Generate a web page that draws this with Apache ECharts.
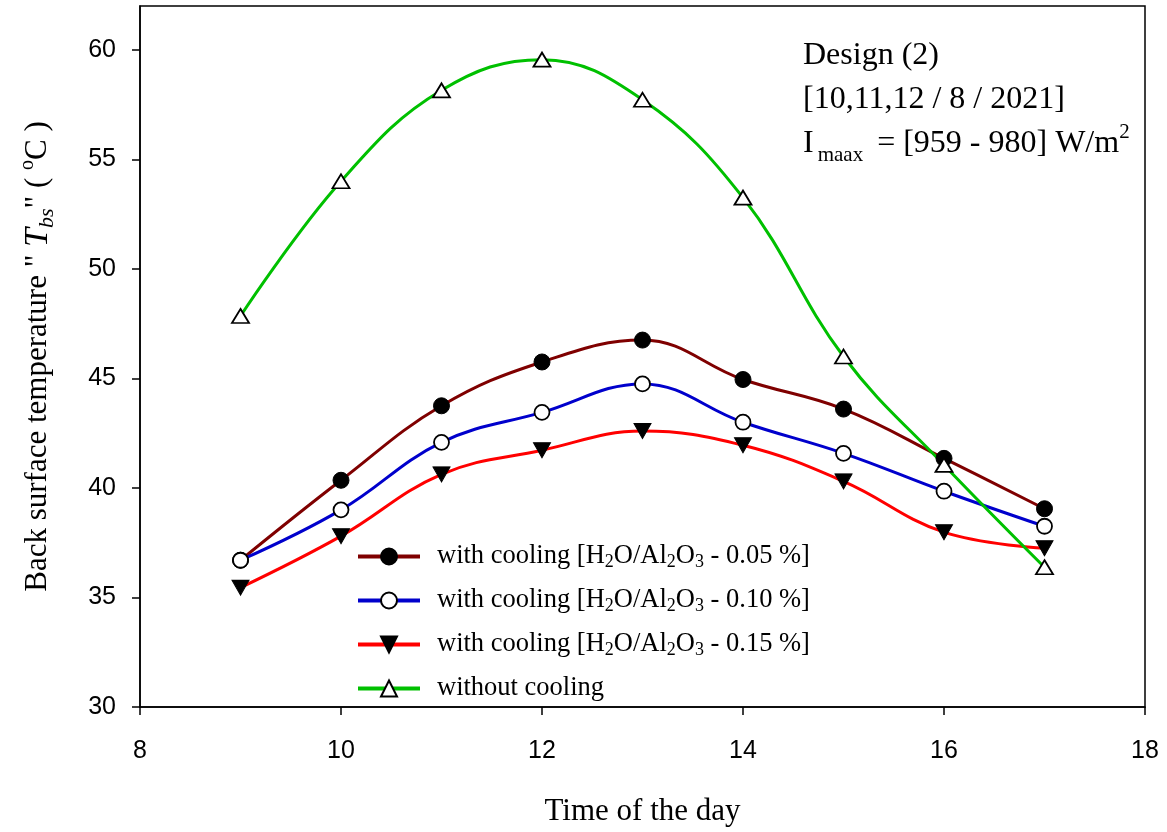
<!DOCTYPE html>
<html>
<head>
<meta charset="utf-8">
<script src="https://cdn.jsdelivr.net/npm/echarts@6/dist/echarts.min.js"></script>
<style>
html,body{margin:0;padding:0;background:#fff;}
#c{width:1167px;height:832px;}
</style>
</head>
<body>
<div id="c"></div>
<script>
const hours = [9, 10, 11, 12, 13, 14, 15, 16, 17];
const cool005 = [36.7, 40.35, 43.75, 45.75, 46.75, 44.95, 43.6, 41.35, 39.05];
const cool010 = [36.7, 39.0, 42.08, 43.45, 44.75, 43.0, 41.58, 39.85, 38.25];
const cool015 = [35.45, 37.8, 40.62, 41.72, 42.6, 41.95, 40.3, 37.98, 37.25];
const noCool = [47.85, 54.0, 58.15, 59.55, 57.72, 53.25, 46.0, 41.05, 36.38];
const seriesNames = ['with cooling [H2O/Al2O3 - 0.05 %]', 'with cooling [H2O/Al2O3 - 0.10 %]', 'with cooling [H2O/Al2O3 - 0.15 %]', 'without cooling'];
const yTicks = [30, 35, 40, 45, 50, 55, 60];
const xTicks = [8, 10, 12, 14, 16, 18];

const pair = arr => hours.map((h, i) => [h, arr[i]]);
const serif = 'Liberation Serif';
const sans = 'Liberation Sans';

const legendRich = {
  n: {fontFamily: serif, fontSize: 26.5, color: '#000', verticalAlign: 'middle', lineHeight: 30},
  s: {fontFamily: serif, fontSize: 18, color: '#000', verticalAlign: 'bottom', lineHeight: 4}
};
function legendFmt(name) {
  if (name.indexOf('H2O') < 0) return '{n|' + name + '}';
  const pct = name.match(/- ([\d.]+ %)/)[1];
  return '{n|with cooling [H}{s|2}{n|O/Al}{s|2}{n|O}{s|3}{n| - ' + pct + ']}';
}

const chart = echarts.init(document.getElementById('c'), null, {renderer: 'canvas'});
const option = {
  backgroundColor: '#fff',
  animation: false,
  grid: {left: 140, right: 22, top: 6, bottom: 124, show: true, borderColor: '#000', borderWidth: 1.5, backgroundColor: 'transparent'},
  xAxis: {
    type: 'value', min: 8, max: 18, interval: 2,
    name: 'Time of the day', nameLocation: 'middle', nameGap: 89,
    nameTextStyle: {fontFamily: serif, fontSize: 31, color: '#000'},
    axisLine: {show: true, onZero: false, lineStyle: {color: '#000', width: 1.5}},
    axisTick: {show: true, inside: false, length: 8, lineStyle: {color: '#000', width: 1.5}, customValues: xTicks},
    axisLabel: {fontFamily: sans, fontSize: 25, color: '#000', margin: 32, customValues: xTicks},
    splitLine: {show: false}
  },
  yAxis: {
    type: 'value', min: 30, max: 62, interval: 5,
    name: '{n|Back surface temperature " }{i|T}{is|bs}{n|" ( }{sup|o}{n|C )}',
    nameLocation: 'middle', nameGap: 82, nameRotate: 90,
    nameTextStyle: {
      rich: {
        n: {fontFamily: serif, fontSize: 31, color: '#000', verticalAlign: 'middle', lineHeight: 40},
        i: {fontFamily: serif, fontSize: 34, fontStyle: 'italic', color: '#000', verticalAlign: 'middle', lineHeight: 40},
        is: {fontFamily: serif, fontSize: 22, fontStyle: 'italic', color: '#000', verticalAlign: 'bottom', lineHeight: 6},
        sup: {fontFamily: serif, fontSize: 20, color: '#000', verticalAlign: 'top', lineHeight: 12}
      }
    },
    axisLine: {show: true, onZero: false, lineStyle: {color: '#000', width: 1.5}},
    axisTick: {show: true, inside: false, length: 8, lineStyle: {color: '#000', width: 1.5}, customValues: yTicks},
    axisLabel: {fontFamily: sans, fontSize: 25, color: '#000', margin: 24, customValues: yTicks},
    splitLine: {show: false}
  },
  legend: {
    orient: 'vertical', left: 356, top: 543, padding: 0,
    itemWidth: 62, itemHeight: 20, itemGap: 15.5,
    data: seriesNames,
    formatter: legendFmt,
    lineStyle: {width: 4},
    textStyle: {rich: legendRich, padding: [0, 0, 0, 12]}
  },
  graphic: [{
    type: 'text', left: 803, top: 40,
    style: {
      text: '{n|Design (2)}\n{n|[10,11,12 / 8 / 2021]}\n{n|I}{s|maax}{n| = [959 - 980] W/m}{p|2}',
      rich: {
        n: {fontFamily: serif, fontSize: 32, fill: '#000', lineHeight: 44, verticalAlign: 'middle'},
        s: {fontFamily: serif, fontSize: 21, fill: '#000', lineHeight: 6, verticalAlign: 'bottom', padding: [0, 6, 0, 4]},
        p: {fontFamily: serif, fontSize: 21, fill: '#000', lineHeight: 10, verticalAlign: 'top'}
      }
    }
  }],
  series: [
    {name: seriesNames[0], type: 'line', data: pair(cool005), smooth: 0.4,
     lineStyle: {color: '#7f0000', width: 3}, itemStyle: {color: '#000', borderColor: '#000', borderWidth: 1},
     symbol: 'circle', symbolSize: 16, showAllSymbol: true},
    {name: seriesNames[1], type: 'line', data: pair(cool010), smooth: 0.4,
     lineStyle: {color: '#0000cc', width: 3}, itemStyle: {color: '#fff', borderColor: '#000', borderWidth: 1.8},
     symbol: 'circle', symbolSize: 15, showAllSymbol: true},
    {name: seriesNames[2], type: 'line', data: pair(cool015), smooth: 0.4,
     lineStyle: {color: '#ff0000', width: 3}, itemStyle: {color: '#000', borderColor: '#000', borderWidth: 1},
     symbol: 'triangle', symbolRotate: 180, symbolSize: [17, 15], showAllSymbol: true},
    {name: seriesNames[3], type: 'line', data: pair(noCool), smooth: 0.4,
     lineStyle: {color: '#00c000', width: 3}, itemStyle: {color: '#fff', borderColor: '#000', borderWidth: 1.8},
     symbol: 'triangle', symbolSize: [17, 14], showAllSymbol: true}
  ]
};
chart.setOption(option);
</script>
</body>
</html>
